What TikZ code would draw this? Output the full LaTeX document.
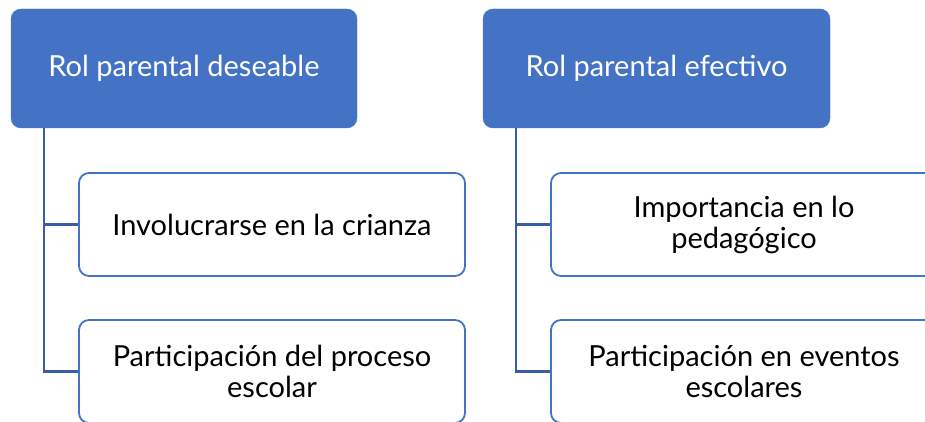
\documentclass[tikz,border=0pt]{standalone}
\usepackage{fontspec}
\setmainfont{Lato}
\definecolor{hdr}{HTML}{4472C4}
\definecolor{conn}{HTML}{3A5DA8}
\begin{document}
\begin{tikzpicture}[x=1pt,y=-1pt,
  hdrbox/.style={fill=hdr,draw=hdr,rounded corners=10pt,text=white,font=\fontsize{29}{31}\selectfont,inner sep=0pt},
  childbox/.style={draw=hdr,line width=1.8pt,fill=white,rounded corners=10pt,font=\fontsize{29}{31}\selectfont,align=center,inner sep=0pt},
  link/.style={draw=conn,line width=2.2pt}]
\useasboundingbox (0,0) rectangle (925,422);
\begin{scope}
\clip (0,0) rectangle (925,422);
% left column
\node[hdrbox,minimum width=346pt,minimum height=119pt] (h1) at (184,68.5) {Rol parental deseable};
\node[childbox,minimum width=386pt,minimum height=103pt] (c11) at (272,224.5) {Involucrarse en la crianza};
\node[childbox,minimum width=386pt,minimum height=103pt] (c12) at (272,371.5) {Participación del proceso\\escolar};
\coordinate (v1) at (44,128);
\draw[link] (v1) |- (c11.west);
\draw[link] (v1) |- (c12.west);
% right column
\node[hdrbox,minimum width=347pt,minimum height=119pt] (h2) at (656.5,68.5) {Rol parental efectivo};
\node[childbox,minimum width=386pt,minimum height=103pt] (c21) at (744,224.5) {Importancia en lo\\pedagógico};
\node[childbox,minimum width=386pt,minimum height=103pt] (c22) at (744,371.5) {Participación en eventos\\escolares};
\coordinate (v2) at (516,128);
\draw[link] (v2) |- (c21.west);
\draw[link] (v2) |- (c22.west);
\end{scope}
\end{tikzpicture}
\end{document}
